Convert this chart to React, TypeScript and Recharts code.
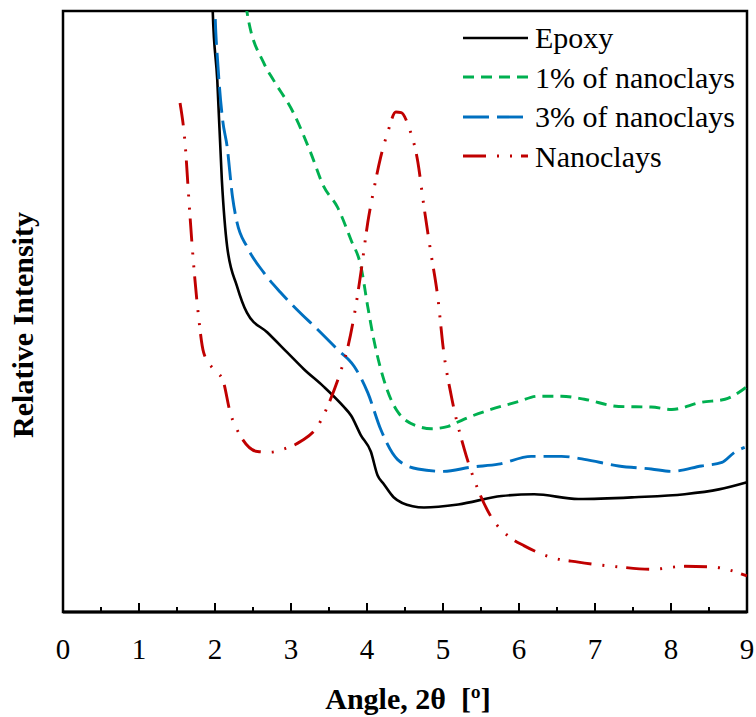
import React from 'react';
import {
    LineChart,
    Line,
    XAxis,
    YAxis,
    ReferenceArea
} from 'recharts';

// angles (2θ) and relative intensity (intensity 0-100 = plot height)
const epoxyAngle = [1.95, 1.97, 2.03, 2.09, 2.16, 2.29, 2.42, 2.69, 2.95, 3.17, 3.43, 3.69, 3.79, 3.92, 4.05, 4.14, 4.22, 4.35, 4.6, 4.75, 5.2, 5.77, 6.2, 6.78, 7.52, 8.18, 8.63, 9.0];
const epoxyValue = [115, 100, 88.5, 71.9, 60.8, 54.2, 49.8, 46.5, 43.2, 40.4, 37.5, 34.2, 32.7, 29.4, 26.7, 22.7, 21.3, 19.1, 17.6, 17.4, 17.9, 19.3, 19.6, 18.8, 19.1, 19.6, 20.4, 21.6];

const clay1Angle = [2.35, 2.42, 2.64, 2.77, 3.03, 3.26, 3.43, 3.61, 3.79, 3.92, 4.01, 4.09, 4.22, 4.41, 4.67, 4.85, 5.07, 5.28, 5.63, 5.99, 6.25, 6.56, 6.86, 7.31, 7.74, 8.01, 8.4, 8.71, 9.0];
const clay1Value = [110, 99.9, 91.4, 88.5, 83.1, 76.4, 70.8, 67.4, 61.9, 57.5, 50.8, 45.3, 38.7, 33.2, 30.9, 30.5, 30.9, 32.1, 33.7, 35.0, 35.9, 35.9, 35.4, 34.2, 34.1, 33.7, 34.9, 35.4, 37.5];

const clay3Angle = [1.98, 2.0, 2.04, 2.1, 2.16, 2.23, 2.29, 2.42, 2.64, 2.86, 3.08, 3.35, 3.61, 3.83, 4.01, 4.18, 4.4, 4.67, 5.01, 5.37, 5.73, 6.16, 6.56, 6.86, 7.31, 7.74, 8.01, 8.4, 8.67, 8.84, 8.97];
const clay3Value = [110, 100, 90.7, 81.9, 77.4, 69.1, 64.8, 60.8, 56.5, 53.2, 50.3, 47.0, 43.7, 40.9, 36.5, 30.4, 25.4, 23.8, 23.4, 24.1, 24.6, 25.9, 25.9, 25.4, 24.3, 23.8, 23.4, 24.3, 24.9, 26.6, 27.4];

const nanoAngle = [1.54, 1.61, 1.65, 1.7, 1.77, 1.85, 1.98, 2.1, 2.2, 2.34, 2.56, 2.73, 2.9, 3.13, 3.35, 3.52, 3.65, 3.75, 3.83, 3.92, 4.01, 4.09, 4.18, 4.27, 4.38, 4.45, 4.55, 4.67, 4.75, 4.84, 4.93, 5.01, 5.11, 5.28, 5.46, 5.63, 5.86, 6.07, 6.42, 6.78, 7.31, 7.74, 8.18, 8.54, 8.76, 9.0];
const nanoValue = [84.7, 77.4, 69.8, 60.8, 50.8, 43.2, 40.4, 38.7, 33.2, 29.2, 26.7, 26.6, 27.1, 28.4, 30.9, 35.4, 39.9, 44.2, 49.2, 56.5, 64.8, 70.3, 75.7, 79.7, 83.2, 83.1, 80.7, 74.8, 67.4, 59.8, 52.5, 43.2, 35.9, 27.1, 20.4, 15.9, 12.6, 11.0, 9.1, 8.3, 7.5, 7.1, 7.6, 7.5, 7.0, 6.0];

const xTicks = [0, 0.5, 1, 1.5, 2, 2.5, 3, 3.5, 4, 4.5, 5, 5.5, 6, 6.5, 7, 7.5, 8, 8.5, 9];

const zip = (xs: number[], ys: number[]) => xs.map((x, i) => ({ x, y: ys[i] }));

const series = [
    { name: 'Epoxy', data: zip(epoxyAngle, epoxyValue), color: '#000000', dash: undefined, width: 2.6 },
    { name: '1% of nanoclays', data: zip(clay1Angle, clay1Value), color: '#00B050', dash: '11 7', width: 2.9 },
    { name: '3% of nanoclays', data: zip(clay3Angle, clay3Value), color: '#0070C0', dash: '26 8', width: 2.9 },
    { name: 'Nanoclays', data: zip(nanoAngle, nanoValue), color: '#C00000', dash: '23 11 2 11 2 9', width: 2.9 },
];

const FONT = '"Liberation Serif", "Times New Roman", serif';

const AngleTick = (props: any) => {
    const { x, y, payload } = props;
    const major = Number.isInteger(payload.value);
    return (
        <g>
            <line x1={x} x2={x} y1={y} y2={y - (major ? 9 : 5)} stroke="#000" strokeWidth={2} />
            {major && (
                <text x={x} y={y + 47} textAnchor="middle" fontSize={29} fontFamily={FONT} fill="#000">
                    {payload.value}
                </text>
            )}
        </g>
    );
};

// legend sits inside the plot, top right
const LegendBox = () => (
    <div style={{ position: 'absolute', left: 462, top: 18, fontFamily: FONT, fontSize: 30, color: '#000', lineHeight: '39.5px' }}>
        {series.map((s) => (
            <div key={s.name} style={{ display: 'flex', alignItems: 'center', height: 39.5 }}>
                <svg width={67} height={10} style={{ marginRight: 6 }}>
                    <line x1={1} x2={66} y1={5} y2={5} stroke={s.color} strokeWidth={s.width} strokeDasharray={s.dash} />
                </svg>
                <span style={{ whiteSpace: 'nowrap' }}>{s.name}</span>
            </div>
        ))}
    </div>
);

export default function App() {
    return (
        <div style={{ position: 'absolute', left: 0, top: 0, width: 756, height: 717, background: '#fff' }}>
            <LineChart
                width={756}
                height={717}
                margin={{ top: 11, right: 9, bottom: 5, left: 0 }}
            >
                <XAxis
                    type="number"
                    dataKey="x"
                    domain={[0, 9]}
                    ticks={xTicks}
                    interval={0}
                    height={100}
                    tickSize={0}
                    tickMargin={0}
                    tickLine={false}
                    axisLine={{ stroke: '#000', strokeWidth: 3 }}
                    tick={<AngleTick />}
                    label={{
                        content: () => (
                            <text x={408} y={709} textAnchor="middle" fontFamily={FONT} fontSize={30} fontWeight="bold" fill="#000" style={{ whiteSpace: 'pre' }}>
                                {'Angle, 2θ  [º]'}
                            </text>
                        )
                    }}
                />
                <YAxis
                    type="number"
                    domain={[0, 100]}
                    allowDataOverflow
                    width={63}
                    tick={false}
                    tickLine={false}
                    axisLine={false}
                    label={{
                        content: () => (
                            <text
                                x={33}
                                y={325}
                                transform="rotate(-90 33 325)"
                                textAnchor="middle"
                                fontFamily={FONT}
                                fontSize={30}
                                fontWeight="bold"
                                fill="#000"
                            >
                                Relative Intensity
                            </text>
                        )
                    }}
                />
                <ReferenceArea x1={0} x2={9} y1={0} y2={100} fill="none" stroke="#000" strokeWidth={2.5} />
                {series.map((s) => (
                    <Line
                        key={s.name}
                        data={s.data}
                        dataKey="y"
                        name={s.name}
                        type="monotone"
                        stroke={s.color}
                        strokeWidth={s.width}
                        strokeDasharray={s.dash}
                        dot={false}
                        activeDot={false}
                        isAnimationActive={false}
                    />
                ))}
            </LineChart>
            <LegendBox />
        </div>
    );
}
